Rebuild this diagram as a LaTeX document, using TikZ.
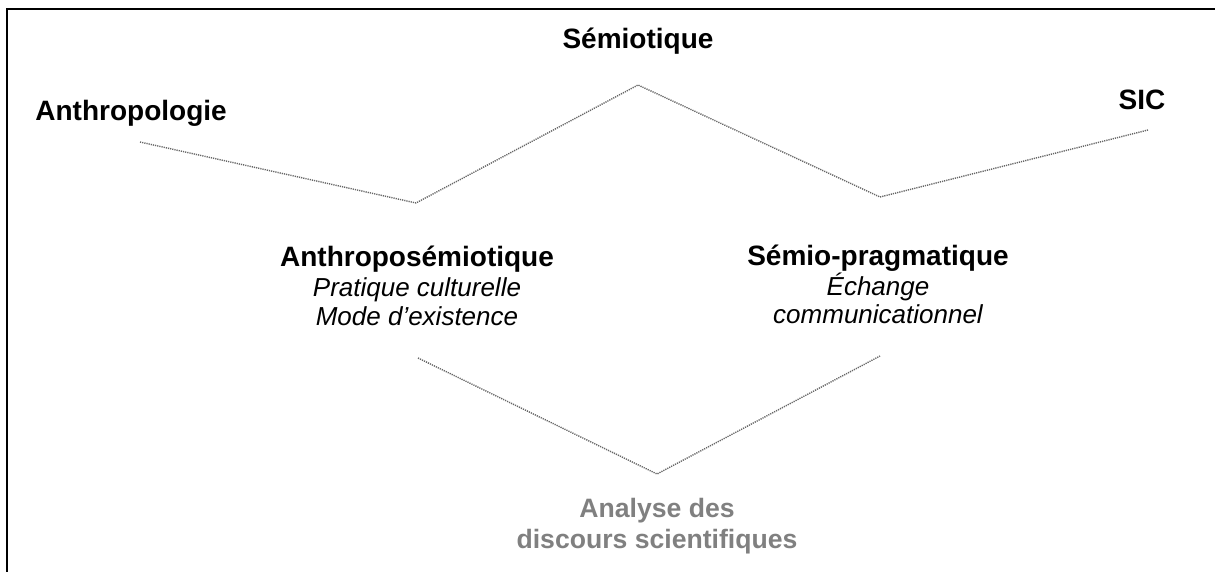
\documentclass[tikz,border=0pt]{standalone}
\usepackage{fontspec}
\setmainfont{Liberation Sans}
\usetikzlibrary{positioning}

\begin{document}
\begin{tikzpicture}[x=0.5pt,y=-0.5pt]
        % Define styles
        \tikzstyle{field} = [font=\fontsize{14}{16}\selectfont\bfseries, inner sep=0pt, anchor=base]
        \tikzstyle{subfield} = [font=\fontsize{13}{14}\selectfont\itshape, align=center, inner sep=0pt, anchor=base]
        \tikzstyle{result} = [field, text=black!50, align=center, font=\fontsize{13.3}{15.5}\selectfont\bfseries]
        \tikzstyle{link} = [black!60, line width=0.7pt, dash pattern=on 0.6pt off 0.5pt]

        \useasboundingbox (0,0) rectangle (1215,572);
        \draw [line width=1pt] (1215,9) -- (7,9) -- (7,572);

        % Nodes
        \node [field] (semio) at (638,49) {Sémiotique};
        \node [field, anchor=base west] (anthro) at (35,121) {Anthropologie};
        \node [field] (sic) at (1142,110) {SIC};
        \node [field] (anthsem) at (417,267) {Anthroposémiotique};
        \node [subfield] (anthsub) at (417,325) {Pratique culturelle\\Mode d’existence};
        \node [field] (semprag) at (878,265) {Sémio-pragmatique};
        \node [subfield] (sempragsub) at (878,323) {Échange\\communicationnel};
        \node [result] (analyse) at (657,548) {Analyse des\\discours scientifiques};

        % Points
        \coordinate (a1) at (140,142);
        \coordinate (a2) at (416,203);
        \coordinate (a3) at (638,85);
        \coordinate (a4) at (880,197);
        \coordinate (a5) at (1148,130);
        \coordinate (b1) at (418,358);
        \coordinate (b2) at (657,474);
        \coordinate (b3) at (880,356);

        % Lines
        \draw [link] (a1) -- (a2) -- (a3) -- (a4) -- (a5);
        \draw [link] (b1) -- (b2) -- (b3);

    \end{tikzpicture}
\end{document}
